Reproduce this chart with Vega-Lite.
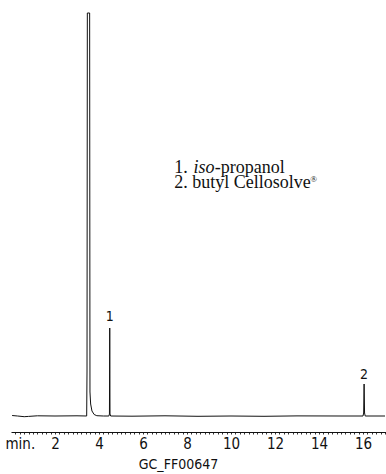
{
  "$schema": "https://vega.github.io/schema/vega-lite/v6.json",
  "width": 375,
  "height": 432,
  "autosize": "none",
  "padding": {"left": 11, "top": 0, "right": 0, "bottom": 42},
  "background": "white",
  "config": {"view": {"stroke": null}},
  "datasets": {
    "trace": [
      {"t": 0.05, "v": 16.5},
      {"t": 0.3, "v": 16},
      {"t": 0.6, "v": 15.3},
      {"t": 0.8, "v": 15.6},
      {"t": 1.2, "v": 16.2},
      {"t": 2.0, "v": 16},
      {"t": 3.0, "v": 16.2},
      {"t": 3.44, "v": 16},
      {"t": 3.455, "v": 60},
      {"t": 3.47, "v": 419},
      {"t": 3.575, "v": 419},
      {"t": 3.59, "v": 40},
      {"t": 3.62, "v": 28},
      {"t": 3.68, "v": 21},
      {"t": 3.78, "v": 17.5},
      {"t": 3.9, "v": 16.3},
      {"t": 4.2, "v": 16},
      {"t": 4.45, "v": 16},
      {"t": 4.475, "v": 18},
      {"t": 4.488, "v": 104},
      {"t": 4.5, "v": 18},
      {"t": 4.53, "v": 16},
      {"t": 5.5, "v": 15.8},
      {"t": 7.0, "v": 16.2},
      {"t": 8.5, "v": 15.7},
      {"t": 10.0, "v": 16},
      {"t": 11.5, "v": 15.7},
      {"t": 13.0, "v": 16.1},
      {"t": 15.0, "v": 16},
      {"t": 16.0, "v": 16},
      {"t": 16.03, "v": 19},
      {"t": 16.05, "v": 48},
      {"t": 16.07, "v": 19},
      {"t": 16.1, "v": 16},
      {"t": 17.0, "v": 16}
    ],
    "peaks": [
      {"t": 4.49, "v": 111, "label": "1"},
      {"t": 16.05, "v": 53, "label": "2"}
    ],
    "notes": [
      {"t": 7.423, "v": 259.3, "txt": "1.", "italic": false},
      {"t": 8.29, "v": 259.3, "txt": "iso", "italic": true},
      {"t": 9.26, "v": 259.3, "txt": "-propanol", "italic": false},
      {"t": 7.423, "v": 244.3, "txt": "2. butyl Cellosolve", "italic": false}
    ],
    "reg": [
      {"t": 13.6, "v": 250, "txt": "®"}
    ]
  },
  "encoding": {
    "x": {
      "field": "t",
      "type": "quantitative",
      "scale": {"domain": [0, 17.045], "nice": false, "zero": false},
      "axis": {
        "title": "GC_FF00647",
        "titleFont": "Liberation Sans Narrow, DejaVu Sans Condensed, Liberation Sans, sans-serif",
        "titleFontSize": 14,
        "titleFontWeight": "normal",
        "titleColor": "#111111",
        "titleX": 167,
        "titleY": 25,
        "titleAlign": "center",
        "titleBaseline": "top",
        "values": [0.2,0.4,0.6,0.8,1,1.2,1.4,1.6,1.8,2,2.2,2.4,2.6,2.8,3,3.2,3.4,3.6,3.8,4,4.2,4.4,4.6,4.8,5,5.2,5.4,5.6,5.8,6,6.2,6.4,6.6,6.8,7,7.2,7.4,7.6,7.8,8,8.2,8.4,8.6,8.8,9,9.2,9.4,9.6,9.8,10,10.2,10.4,10.6,10.8,11,11.2,11.4,11.6,11.8,12,12.2,12.4,12.6,12.8,13,13.2,13.4,13.6,13.8,14,14.2,14.4,14.6,14.8,15,15.2,15.4,15.6,15.8,16,16.2,16.4,16.6,16.8,17],
        "labelExpr": "datum.value == 0.4 ? 'min.' : (indexof([2,4,6,8,10,12,14,16], datum.value) >= 0 ? format(datum.value, 'd') : '')",
        "labelFont": "Liberation Sans Narrow, DejaVu Sans Condensed, Liberation Sans, sans-serif",
        "labelFontSize": 15,
        "labelColor": "#111111",
        "labelOverlap": false,
        "labelFlush": false,
        "labelPadding": 2,
        "tickSize": 2,
        "tickColor": "#333333",
        "tickWidth": 1,
        "domainColor": "#111111",
        "domainWidth": 1,
        "grid": false
      }
    },
    "y": {
      "field": "v",
      "type": "quantitative",
      "scale": {"domain": [0, 432], "nice": false, "zero": false},
      "axis": null
    }
  },
  "layer": [
    {
      "data": {"name": "trace"},
      "mark": {"type": "line", "color": "#111111", "strokeWidth": 1, "clip": true}
    },
    {
      "data": {"name": "peaks"},
      "mark": {"type": "text", "font": "Liberation Sans Narrow, DejaVu Sans Condensed, Liberation Sans, sans-serif", "fontSize": 14, "align": "center", "baseline": "alphabetic", "fill": "#111111"},
      "encoding": {"text": {"field": "label"}}
    },
    {
      "data": {"name": "notes"},
      "transform": [{"filter": "!datum.italic"}],
      "mark": {"type": "text", "font": "Liberation Serif", "fontSize": 18, "align": "left", "baseline": "alphabetic", "fill": "#111111"},
      "encoding": {"text": {"field": "txt"}}
    },
    {
      "data": {"name": "notes"},
      "transform": [{"filter": "datum.italic"}],
      "mark": {"type": "text", "font": "Liberation Serif", "fontSize": 18, "fontStyle": "italic", "align": "left", "baseline": "alphabetic", "fill": "#111111"},
      "encoding": {"text": {"field": "txt"}}
    },
    {
      "data": {"name": "reg"},
      "mark": {"type": "text", "font": "Liberation Serif", "fontSize": 9, "align": "left", "baseline": "alphabetic", "fill": "#111111"},
      "encoding": {"text": {"field": "txt"}}
    }
  ]
}
